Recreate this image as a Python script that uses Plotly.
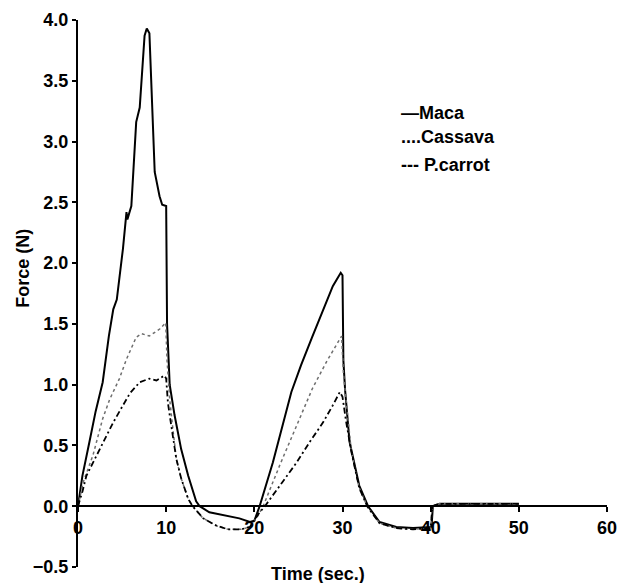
import plotly.graph_objects as go

# ---- data ----
t_maca = [0, 0.5, 1.3, 2.0, 2.8, 3.5, 4.0, 4.4, 5.1, 5.3, 5.5, 5.6, 6.05, 6.6, 7.0, 7.55, 7.8, 8.1,
          8.4, 8.7, 9.25, 9.55, 10.0, 10.1, 10.4, 10.95, 11.7, 12.5, 13.4, 13.8, 14.9, 16.8, 18.3,
          19.5, 20.0, 20.6, 22.1, 24.2, 25.3, 26.5, 28.0, 28.9, 29.8, 30.0, 30.1, 30.3, 30.8, 31.9,
          32.9, 34.2, 36.1, 38.0, 40.1, 40.25, 41, 45, 50]
f_maca = [0, 0.25, 0.53, 0.78, 1.02, 1.4, 1.62, 1.7, 2.12, 2.3, 2.42, 2.36, 2.47, 3.16, 3.28, 3.87,
          3.93, 3.89, 3.27, 2.75, 2.55, 2.48, 2.47, 1.5, 1.0, 0.75, 0.47, 0.25, 0.04, 0.0, -0.05,
          -0.075, -0.1, -0.13, -0.12, 0.0, 0.36, 0.94, 1.16, 1.38, 1.64, 1.81, 1.92, 1.9, 1.2, 0.95,
          0.53, 0.17, 0.0, -0.13, -0.17, -0.18, -0.17, 0.0, 0.02, 0.02, 0.02]

t_cassava = [0, 0.6, 1.7, 2.8, 3.6, 4.7, 5.5, 6.6, 7.2, 8.1, 9.3, 9.95, 10.1, 10.4, 10.8, 11.15,
             11.7, 12.5, 13.0, 14.2, 15.7, 17.0, 18.5, 19.5, 20.4, 21.0, 22.9, 24.8, 26.6, 28.2,
             29.3, 29.9, 30.1, 30.5, 31.0, 31.9, 32.8, 34.2, 36.1, 38.0, 40.0, 40.2, 41, 45, 50]
f_cassava = [0, 0.2, 0.42, 0.72, 0.88, 1.05, 1.21, 1.39, 1.42, 1.40, 1.46, 1.51, 1.2, 0.88, 0.61,
             0.39, 0.23, 0.06, 0.0, -0.1, -0.16, -0.19, -0.19, -0.17, -0.08, 0.0, 0.34, 0.665,
             0.97, 1.19, 1.32, 1.40, 1.1, 0.8, 0.45, 0.15, 0.0, -0.14, -0.18, -0.19, -0.18, 0.0,
             0.02, 0.02, 0.02]

t_carrot = [0, 0.5, 0.95, 2.1, 3.2, 4.0, 5.1, 5.9, 7.0, 8.1, 8.9, 9.8, 10.0, 10.2, 10.5, 10.8,
            11.15, 11.7, 12.5, 13.0, 14.2, 15.7, 17.0, 18.5, 19.5, 20.5, 21.2, 23.2, 24.8, 26.3,
            27.8, 28.9, 29.7, 30.0, 30.4, 31.0, 31.9, 32.8, 34.2, 36.1, 38.0, 40.0, 40.2, 41, 45, 50]
f_carrot = [0, 0.12, 0.25, 0.42, 0.58, 0.69, 0.83, 0.93, 1.02, 1.05, 1.035, 1.075, 1.05, 0.85,
            0.7, 0.55, 0.39, 0.23, 0.06, 0.0, -0.1, -0.16, -0.19, -0.19, -0.17, -0.06, 0.0, 0.2,
            0.36, 0.53, 0.69, 0.83, 0.94, 0.9, 0.7, 0.45, 0.15, 0.0, -0.14, -0.18, -0.19, -0.18,
            0.0, 0.02, 0.02, 0.02]

y_ticks = [-0.5, 0.0, 0.5, 1.0, 1.5, 2.0, 2.5, 3.0, 3.5, 4.0]
x_ticks = [0, 10, 20, 30, 40, 50, 60]
x_range = [0, 60]
y_range = [-0.5, 4.0]

series_names = ["Maca", "Cassava", "P.carrot"]
legend_marks = ["\u2014", "....", "--- "]

FONT = "Liberation Sans, Arial, sans-serif"

fig = go.Figure()
fig.add_trace(go.Scatter(x=t_maca, y=f_maca, mode="lines", name=series_names[0],
                         line=dict(color="black", width=2, dash="solid")))
fig.add_trace(go.Scatter(x=t_cassava, y=f_cassava, mode="lines", name=series_names[1],
                         line=dict(color="#6e6e6e", width=1.5, dash="dot")))
fig.add_trace(go.Scatter(x=t_carrot, y=f_carrot, mode="lines", name=series_names[2],
                         line=dict(color="black", width=1.8, dash="6px,3px,2px,3px")))

zero_pos = (0 - y_range[0]) / (y_range[1] - y_range[0])

fig.update_layout(
    width=619, height=583,
    margin=dict(l=78, r=12, t=20, b=16, autoexpand=False),
    paper_bgcolor="white", plot_bgcolor="white",
    showlegend=False,
    font=dict(family=FONT, color="black"),
    xaxis=dict(range=x_range, tickvals=x_ticks, showgrid=False, zeroline=False,
               showline=True, linecolor="black", linewidth=2,
               ticks="outside", ticklen=5, tickwidth=1.5, tickcolor="black",
               anchor="free", position=zero_pos, automargin=False,
               ticklabeloverflow="allow",
               tickfont=dict(family=FONT, size=18, weight="bold", color="black")),
    yaxis=dict(range=y_range, tickvals=y_ticks, tickformat=".1f", showgrid=False, zeroline=False,
               showline=True, linecolor="black", linewidth=2, automargin=False,
               ticks="outside", ticklen=4, tickwidth=1.5, tickcolor="black",
               tickfont=dict(family=FONT, size=18, weight="bold", color="black")),
)

# axis titles
fig.add_annotation(text="Time (sec.)", xref="paper", yref="paper", x=0.454, y=-0.012,
                   xanchor="center", yanchor="middle", showarrow=False,
                   font=dict(family=FONT, size=18, weight="bold", color="black"))
fig.add_annotation(text="Force (N)", xref="paper", yref="paper", x=-0.104, y=0.547,
                   xanchor="center", yanchor="middle", showarrow=False, textangle=-90,
                   font=dict(family=FONT, size=18, weight="bold", color="black"))

# text legend
leg_y = [0.830, 0.786, 0.735]
for mark, name, yy in zip(legend_marks, series_names, leg_y):
    fig.add_annotation(text=f"{mark}{name}",
                       xref="paper", yref="paper", x=0.607, y=yy,
                       xanchor="left", yanchor="middle", showarrow=False,
                       font=dict(family=FONT, size=18, weight="bold", color="black"))

fig.write_html("out.html",
               config={"displayModeBar": False},
               post_script="document.body.style.margin='0';document.body.style.overflow='hidden';")
